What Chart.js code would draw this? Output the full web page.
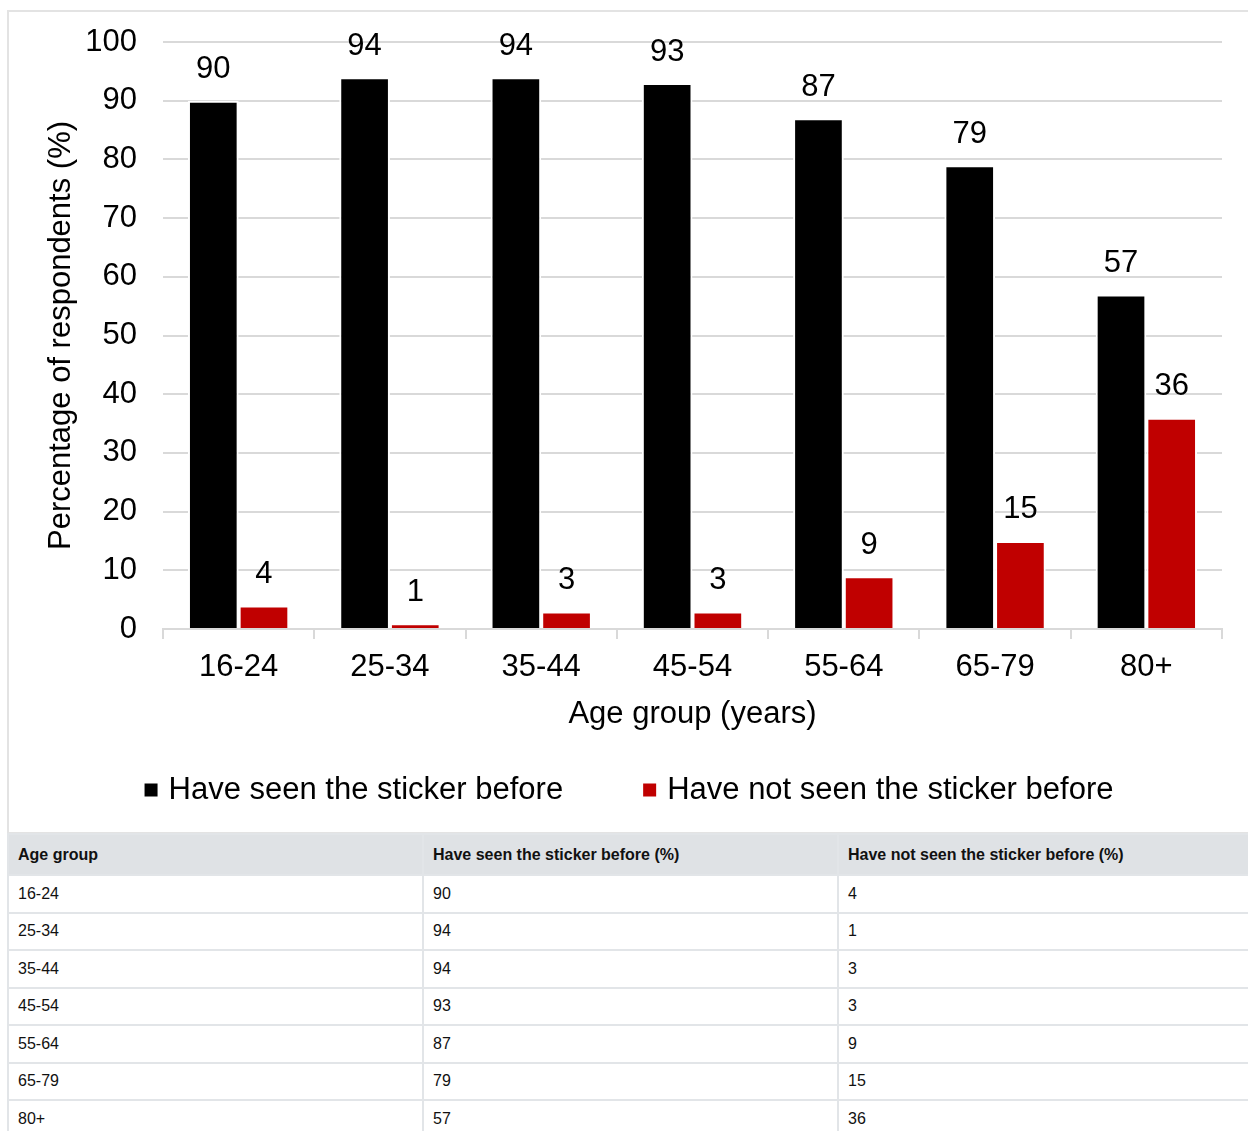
<!DOCTYPE html>
<html>
<head>
<meta charset="utf-8">
<script src="https://cdn.jsdelivr.net/npm/chart.js@4"></script>
<style>
  html, body { margin: 0; padding: 0; background: #fff; overflow: hidden; width: 1248px; height: 1131px; }
  body { position: relative; font-family: "Liberation Sans", Arial, sans-serif; }
  #box { position: absolute; left: 7px; top: 10px; width: 1262px; height: 824px; border: 2px solid #e3e3e3; border-right: none; box-sizing: border-box; }
  #wrap { position: absolute; left: 9px; top: 12px; width: 1240px; height: 820px; }
  table { position: absolute; left: 7px; top: 833px; width: 1252px; border-collapse: collapse; table-layout: fixed; font-size: 16px; color: #111; }
  th, td { border: 2px solid #e2e5e8; text-align: left; padding: 0 0 0 9px; }
  th { background: #dfe2e5; font-weight: bold; height: 39px; }
  td { height: 35.5px; }
</style>
</head>
<body>
<div id="box"></div>
<div id="wrap"><canvas id="c" width="1240" height="820"></canvas></div>
<table id="tbl">
  <colgroup><col style="width:415px"><col style="width:415px"><col style="width:422px"></colgroup>
  <thead><tr id="hdr"></tr></thead>
  <tbody id="tb"></tbody>
</table>
<script>
const categories = ["16-24", "25-34", "35-44", "45-54", "55-64", "65-79", "80+"];
const seenValues = [90, 94, 94, 93, 87, 79, 57];
const notSeenValues = [4, 1, 3, 3, 9, 15, 36];
const seriesLabels = ["Have seen the sticker before", "Have not seen the sticker before"];
const yTicks = [0, 10, 20, 30, 40, 50, 60, 70, 80, 90, 100];
const tableHeaders = ["Age group", "Have seen the sticker before (%)", "Have not seen the sticker before (%)"];

const FONT = "'Liberation Sans', Arial, sans-serif";
const FS = 31;

const valueLabels = {
  id: 'valueLabels',
  afterDatasetsDraw(chart) {
    const ctx = chart.ctx;
    ctx.save();
    ctx.font = FS + 'px ' + FONT;
    ctx.fillStyle = '#000';
    ctx.textAlign = 'center';
    ctx.textBaseline = 'middle';
    chart.data.datasets.forEach((ds, i) => {
      chart.getDatasetMeta(i).data.forEach((bar, j) => {
        ctx.fillText(String(ds.data[j]), bar.x, bar.y - 31);
      });
    });
    ctx.restore();
  }
};

const customLegend = {
  id: 'customLegend',
  afterDraw(chart) {
    const ctx = chart.ctx;
    ctx.save();
    ctx.font = FS + 'px ' + FONT;
    ctx.textBaseline = 'middle';
    ctx.textAlign = 'left';
    const box = 13, gapText = 11, gapItem = 80;
    const items = chart.data.datasets.map(ds => ({ label: ds.label, color: ds.backgroundColor, w: ctx.measureText(ds.label).width }));
    let total = 0;
    items.forEach((it, k) => { total += box + gapText + it.w + (k < items.length - 1 ? gapItem : 0); });
    let x = chart.width / 2 - total / 2;
    const y = 778;
    items.forEach(it => {
      ctx.fillStyle = it.color;
      ctx.fillRect(x, y - box / 2, box, box);
      x += box + gapText;
      ctx.fillStyle = '#000';
      ctx.fillText(it.label, x, y);
      x += it.w + gapItem;
    });
    ctx.restore();
  }
};

new Chart(document.getElementById('c'), {
  type: 'bar',
  data: {
    labels: categories,
    datasets: [
      { label: seriesLabels[0], data: seenValues, backgroundColor: '#000000', borderColor: '#ffffff', borderWidth: 2, borderSkipped: 'start' },
      { label: seriesLabels[1], data: notSeenValues, backgroundColor: '#c00000', borderColor: '#ffffff', borderWidth: 2, borderSkipped: 'start' }
    ]
  },
  options: {
    responsive: false,
    animation: false,
    devicePixelRatio: 1,
    datasets: { bar: { barPercentage: 1.0, categoryPercentage: 0.67 } },
    layout: { padding: { left: 30, right: 27, top: 30, bottom: 97 } },
    plugins: { legend: { display: false }, tooltip: { enabled: false } },
    scales: {
      x: {
        grid: { display: true, drawOnChartArea: false, drawTicks: true, tickLength: 10, color: '#d9d9d9', lineWidth: 2, offset: true },
        border: { display: true, color: '#d9d9d9', width: 2 },
        ticks: { font: { size: FS, family: FONT }, color: '#000', padding: 10, maxRotation: 0 },
        title: { display: true, text: 'Age group (years)', font: { size: FS, family: FONT }, color: '#000', padding: { top: 10, bottom: 2 } },
        afterFit(s) { s.height = 106; }
      },
      y: {
        min: 0, max: 100,
        afterBuildTicks(s) { s.ticks = yTicks.map(v => ({ value: v })); },
        grid: { color: '#d9d9d9', lineWidth: 2, drawTicks: true, tickLength: 15, tickColor: 'rgba(0,0,0,0)' },
        border: { display: false },
        ticks: { font: { size: FS, family: FONT }, color: '#000', padding: 11 },
        title: { display: true, text: 'Percentage of respondents (%)', font: { size: FS, family: FONT }, color: '#000', padding: { top: 4, bottom: 4 } },
        afterFit(s) { s.width = 124; }
      }
    }
  },
  plugins: [valueLabels, customLegend]
});

const hdr = document.getElementById('hdr');
tableHeaders.forEach(h => { const th = document.createElement('th'); th.textContent = h; hdr.appendChild(th); });
const tb = document.getElementById('tb');
categories.forEach((c, i) => {
  const tr = document.createElement('tr');
  [c, seenValues[i], notSeenValues[i]].forEach(v => { const td = document.createElement('td'); td.textContent = v; tr.appendChild(td); });
  tb.appendChild(tr);
});
</script>
</body>
</html>
